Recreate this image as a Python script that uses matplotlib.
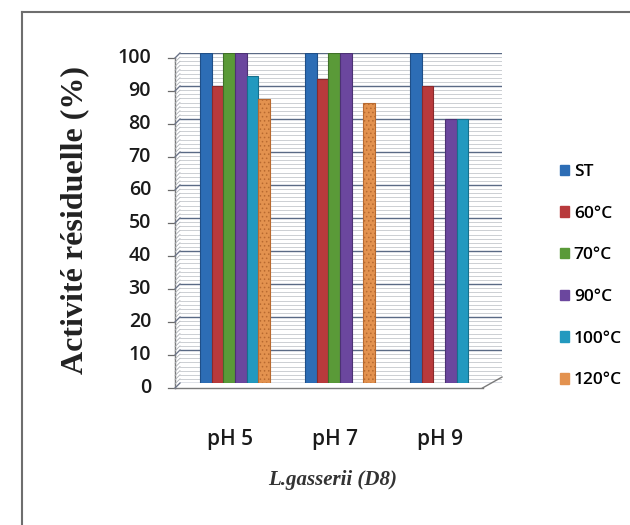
import numpy as np
import matplotlib
matplotlib.use('Agg')
import matplotlib.pyplot as plt
import matplotlib.transforms as mtransforms
from matplotlib.patches import Patch
from matplotlib.lines import Line2D

# Data.
groups = ['pH 5', 'pH 7', 'pH 9']
series = ['ST', '60°C', '70°C', '90°C', '100°C', '120°C']
values = {
    'ST':    [100, 100, 100],
    '60°C':  [90, 92, 90],
    '70°C':  [100, 100, 0],
    '90°C':  [100, 100, 80],
    '100°C': [93, 0, 80],
    '120°C': [86, 85, 0],
}
colors = ['#2d6db5', '#b83a3c', '#5a9a38', '#6b479e', '#2299bf', '#e3924f']
edges = ['#1f4f88', '#8a2a2c', '#3f7028', '#4c3274', '#16708c', '#b86a30']

plt.rcParams['font.family'] = ['Open Sans', 'DejaVu Sans']
plt.rcParams['hatch.linewidth'] = 0.6

fig = plt.figure(figsize=(6.3, 5.25), dpi=100)
W, H = 630, 525
# back wall of the pseudo-3D chart
ax = fig.add_axes([180 / W, 1 - 383 / H, 322 / W, 330 / H])
ax.set_ylim(0, 100)
ax.set_xlim(-0.524, 2.543)
for s in ax.spines.values():
    s.set_visible(False)

# Gridlines on the back wall
minor = np.arange(0, 100.01, 1.25)
major = np.arange(0, 101, 10)
for v in minor:
    ax.axhline(v, color='#c4c7cc', lw=0.6, zorder=0)
for v in major:
    ax.axhline(v, color='#5a6a85', lw=1.0, zorder=0.5)

# depth offset: front plane is 5 px left and 5 px down
dpi = fig.dpi
front = ax.transAxes + mtransforms.ScaledTranslation(-5 / dpi, -5 / dpi, fig.dpi_scale_trans)
blend = mtransforms.blended_transform_factory(ax.transAxes, ax.transData)
front_y = blend + mtransforms.ScaledTranslation(-5 / dpi, -5 / dpi, fig.dpi_scale_trans)

# side wall connectors
for v in minor:
    t0 = blend.transform((0, v))
    t1 = front_y.transform((0, v))
    fig.add_artist(Line2D([t0[0] / W, t1[0] / W], [t0[1] / H, t1[1] / H],
                          color='#aeb2b8', lw=0.6))
for v in major:
    t0 = blend.transform((0, v))
    t1 = front_y.transform((0, v))
    fig.add_artist(Line2D([t0[0] / W, t1[0] / W], [t0[1] / H, t1[1] / H],
                          color='#6a7388', lw=0.9))
    # tick on front axis
    ax.add_line(Line2D([0, -0.022], [v, v], transform=front_y, color='#6a6a6a',
                       lw=0.9, clip_on=False))

# front axis line and floor
ax.add_line(Line2D([0, 0], [0, 100], transform=front_y, color='#7a7a7a', lw=1.0, clip_on=False))
ax.add_line(Line2D([0, 0.955], [0, 0], transform=front, color='#7a7a7a', lw=1.0, clip_on=False))
fl0 = front.transform((0.955, 0))
fl1 = ax.transAxes.transform((1.0, 0.018))
fig.add_artist(Line2D([fl0[0] / W, fl1[0] / W], [fl0[1] / H, fl1[1] / H], color='#7a7a7a', lw=1.0))

# Bars
x = np.arange(len(groups))
bw = 0.111
for i, name in enumerate(series):
    off = (i - 2.5) * bw
    kw = {}
    if name == '120°C':
        kw = dict(hatch='....')
    ax.bar(x + off, values[name], bw, color=colors[i], edgecolor=edges[i],
           linewidth=0.8, zorder=3, label=name, **kw)

# y tick labels on front plane
ax.set_yticks([])
lab_t = blend + mtransforms.ScaledTranslation(-29 / dpi, -5 / dpi, fig.dpi_scale_trans)
for v in major:
    ax.text(0, v, '%d' % v, transform=lab_t, ha='right', va='center',
            fontsize=14, fontweight='semibold', color='#1a1a1a')

# x tick labels
ax.set_xticks(x)
ax.set_xticklabels(groups, fontsize=15, fontweight='semibold', color='#1a1a1a')
ax.tick_params(axis='x', length=0, pad=33)
shift = mtransforms.ScaledTranslation(-5 / dpi, 0, fig.dpi_scale_trans)
for lab in ax.get_xticklabels():
    lab.set_transform(lab.get_transform() + shift)

fig.text(75 / W, 1 - 220 / H, 'Activité résiduelle (%)', rotation=90, ha='center', va='center',
         fontsize=23, fontweight='bold', family='Liberation Serif', color='#222222')
fig.text(333 / W, 1 - 480 / H, 'L.gasserii (D8)', ha='center', va='center',
         fontsize=15, fontweight='bold', style='italic', family='Liberation Serif', color='#333333')

handles = [Patch(facecolor=c, edgecolor=c) for c in colors]
fig.legend(handles, series, loc='upper left', bbox_to_anchor=(553 / W, 1 - 157 / H),
           frameon=False, prop={'size': 12.5, 'weight': 'semibold'},
           handlelength=0.55, handleheight=0.55,
           handletextpad=0.25, labelspacing=1.48, borderaxespad=0)

# outer frame
fig.add_artist(Line2D([22 / W, 22 / W], [1 - 12 / H, 0], color='#6e6e6e', lw=1.5))
fig.add_artist(Line2D([22 / W, 1], [1 - 12 / H, 1 - 12 / H], color='#6e6e6e', lw=1.5))

fig.savefig('out.png', dpi=100)
